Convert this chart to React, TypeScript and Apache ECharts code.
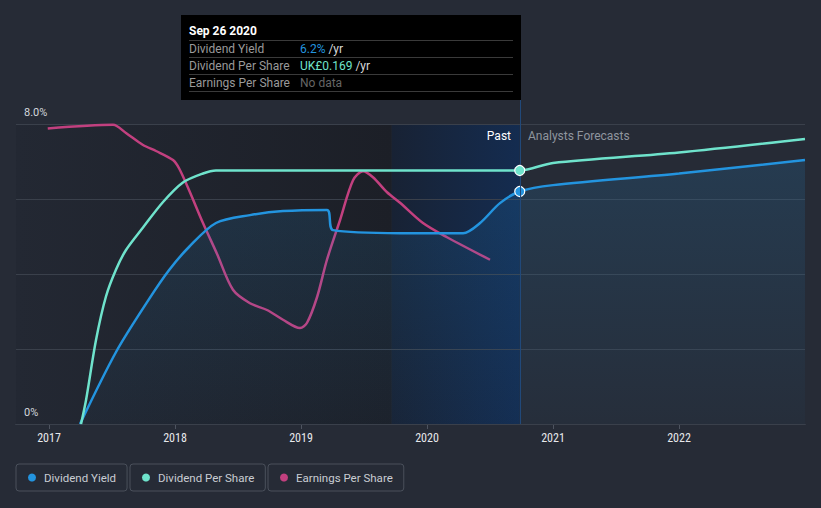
import React, { useEffect, useRef } from "react";
import * as echarts from "echarts";

// decimal years
const yieldX = [2017.246, 2017.532, 2017.79, 2017.952, 2018.111, 2018.325, 2018.595, 2018.857, 2019.206, 2019.254, 2019.786, 2020.286, 2020.421, 2020.579, 2020.736, 2021.0, 2022.0, 2023.0];
const yieldY = [0, 1.92, 3.31, 4.1, 4.72, 5.36, 5.57, 5.68, 5.71, 5.17, 5.09, 5.09, 5.36, 5.89, 6.2, 6.37, 6.68, 7.04];

const dpsX = [2017.254, 2017.294, 2017.373, 2017.452, 2017.532, 2017.611, 2017.746, 2017.905, 2018.063, 2018.222, 2018.325, 2019.0, 2020.0, 2020.736, 2021.0, 2022.0, 2023.0];
const dpsY = [0, 0.016, 0.056, 0.085, 0.103, 0.116, 0.131, 0.148, 0.161, 0.167, 0.169, 0.169, 0.169, 0.169, 0.174, 0.181, 0.19];

const epsX = [2016.99, 2017.508, 2017.611, 2017.746, 2017.849, 2017.984, 2018.032, 2018.111, 2018.222, 2018.333, 2018.46, 2018.595, 2018.73, 2018.857, 2018.992, 2019.048, 2019.127, 2019.206, 2019.31, 2019.413, 2019.492, 2019.571, 2019.683, 2019.786, 2019.968, 2020.159, 2020.5];
const epsY = [0.394, 0.399, 0.388, 0.372, 0.364, 0.352, 0.341, 0.312, 0.268, 0.227, 0.179, 0.161, 0.152, 0.139, 0.128, 0.135, 0.169, 0.219, 0.272, 0.325, 0.337, 0.329, 0.309, 0.295, 0.268, 0.249, 0.219];

const yearTicks = [2017, 2018, 2019, 2020, 2021, 2022];
const xMin = 2016.738;
const xMax = 2023.0;
const pastEnd = 2020.736;
const highlightStart = 2019.72;

const COLORS = { yield: "#2394df", dps: "#6fe3cc", eps: "#c2407f" };
const FONT = "Roboto, 'Noto Sans', sans-serif";

function pairs(xs: number[], ys: number[], markAt?: number, color?: string) {
  return xs.map((x, i) => {
    if (markAt !== undefined && x === markAt) {
      return {
        value: [x, ys[i]],
        symbol: "circle",
        symbolSize: 10,
        itemStyle: { color, borderColor: "#ffffff", borderWidth: 1.2 },
      };
    }
    return { value: [x, ys[i]], symbol: "none" };
  });
}

export default function App() {
  const ref = useRef<HTMLDivElement>(null);
  useEffect(() => {
    if (!ref.current) return;
    const chart = echarts.init(ref.current, null, { renderer: "svg" });
    const legendBase = {
      top: 464,
      orient: "horizontal",
      icon: "circle",
      itemWidth: 8,
      itemHeight: 8,
      padding: [6, 11, 6, 12],
      borderColor: "#4a505b",
      borderWidth: 1,
      borderRadius: 3,
      textStyle: { color: "#c9cdd3", fontSize: 11.5, fontFamily: FONT, padding: [0, 0, 0, 3], lineHeight: 15 },
      selectedMode: false,
    };
    chart.setOption({
      animation: false,
      backgroundColor: "#262b36",
      textStyle: { fontFamily: FONT },
      grid: { left: 16, right: 16, top: 124, bottom: 84, containLabel: false },
      legend: [
        { ...legendBase, left: 16, data: ["Dividend Yield"] },
        { ...legendBase, left: 130, data: ["Dividend Per Share"] },
        { ...legendBase, left: 268, data: ["Earnings Per Share"] },
      ],
      xAxis: {
        type: "value",
        min: xMin,
        max: xMax,
        splitLine: { show: false },
        axisLine: { lineStyle: { color: "#4e5460", width: 1 } },
        axisTick: { show: true, customValues: yearTicks, length: 5, lineStyle: { color: "#4e5460" } },
        axisLabel: {
          customValues: yearTicks,
          color: "#e6e8eb",
          fontSize: 12,
          margin: 8,
          fontFamily: "'Roboto Condensed', 'Liberation Sans Narrow', 'DejaVu Sans Condensed', sans-serif",
          formatter: (v: number) => String(Math.round(v)),
        },
      },
      yAxis: [
        {
          type: "value",
          min: 0,
          max: 8,
          interval: 2,
          axisLine: { show: false },
          axisTick: { show: false },
          splitLine: { lineStyle: { color: "#3a404b", width: 1 } },
          axisLabel: {
            inside: true,
            margin: 8,
            verticalAlign: "bottom",
            padding: [0, 0, 6, 0],
            color: "#d4d7dc",
            fontSize: 11,
            formatter: (v: number) => (v === 8 ? "8.0%" : v === 0 ? "0%" : ""),
          },
          z: 3,
        },
        { type: "value", min: 0, max: 0.2, show: false },
        { type: "value", min: 0, max: 0.4, show: false },
      ],
      series: [
        {
          name: "Dividend Yield",
          type: "line",
          yAxisIndex: 0,
          data: pairs(yieldX, yieldY, pastEnd, COLORS.yield),
          smooth: 0.3,
          showSymbol: true,
          symbol: "none",
          lineStyle: { color: COLORS.yield, width: 2.5 },
          itemStyle: { color: COLORS.yield },
          areaStyle: {
            color: new echarts.graphic.LinearGradient(0, 0, 0, 1, [
              { offset: 0, color: "rgba(35,148,223,0.22)" },
              { offset: 1, color: "rgba(35,148,223,0.04)" },
            ]),
          },
          z: 4,
          markArea: {
            silent: true,
            data: [
              [
                {
                  xAxis: xMin,
                  yAxis: 8,
                  itemStyle: {
                    color: new echarts.graphic.LinearGradient(0, 0, 1, 0, [
                      { offset: 0, color: "#232833" },
                      { offset: 1, color: "#1c1f27" },
                    ]),
                  },
                },
                { xAxis: highlightStart, yAxis: 0 },
              ],
              [
                {
                  xAxis: highlightStart,
                  yAxis: 8,
                  itemStyle: {
                    color: new echarts.graphic.LinearGradient(0, 0, 1, 0, [
                      { offset: 0, color: "#182234" },
                      { offset: 1, color: "#142c50" },
                    ]),
                  },
                },
                { xAxis: pastEnd, yAxis: 0 },
              ],
            ],
          },
          markLine: {
            silent: true,
            symbol: "none",
            label: { show: false },
            lineStyle: { color: "#21497a", type: "solid", width: 1 },
            data: [{ xAxis: pastEnd }],
          },
        },
        {
          name: "Dividend Per Share",
          type: "line",
          yAxisIndex: 1,
          data: pairs(dpsX, dpsY, pastEnd, COLORS.dps),
          smooth: 0.3,
          showSymbol: true,
          symbol: "none",
          lineStyle: { color: COLORS.dps, width: 2.5 },
          itemStyle: { color: COLORS.dps },
          z: 5,
        },
        {
          name: "Earnings Per Share",
          type: "line",
          yAxisIndex: 2,
          data: pairs(epsX, epsY),
          smooth: 0.3,
          showSymbol: false,
          symbol: "none",
          lineStyle: { color: COLORS.eps, width: 2.5 },
          itemStyle: { color: COLORS.eps },
          z: 3,
        },
      ],
      graphic: [
        { type: "line", z: 10, shape: { x1: 520.5, y1: 100, x2: 520.5, y2: 124 }, style: { stroke: "#21497a", lineWidth: 1 }, silent: true },
        { type: "text", z: 10, x: 511, y: 136, style: { text: "Past", fill: "#ffffff", fontSize: 12, fontFamily: FONT, align: "right", verticalAlign: "middle" } },
        { type: "text", z: 10, x: 528, y: 136, style: { text: "Analysts Forecasts", fill: "#8f959e", fontSize: 12, fontFamily: FONT, align: "left", verticalAlign: "middle" } },
        {
          type: "group",
          z: 10,
          children: [
            { type: "rect", shape: { x: 181, y: 15, width: 340, height: 85 }, style: { fill: "#000000" } },
            { type: "text", x: 189, y: 31, style: { text: "Sep 26 2020", fill: "#ffffff", fontSize: 12, fontWeight: "bold", fontFamily: FONT, verticalAlign: "middle" } },
            { type: "line", shape: { x1: 189, y1: 40.5, x2: 513, y2: 40.5 }, style: { stroke: "#3a3a3a", lineWidth: 1 } },
            { type: "text", x: 189, y: 48.5, style: { text: "Dividend Yield", fill: "#9a9a9a", fontSize: 12, fontFamily: FONT, verticalAlign: "middle" } },
            { type: "text", x: 300, y: 48.5, style: { rich: { v: { fill: COLORS.yield, fontSize: 12, fontFamily: FONT }, u: { fill: "#d8d8d8", fontSize: 12, fontFamily: FONT } }, text: "{v|6.2%}{u| /yr}", verticalAlign: "middle" } },
            { type: "line", shape: { x1: 189, y1: 57.5, x2: 513, y2: 57.5 }, style: { stroke: "#3a3a3a", lineWidth: 1 } },
            { type: "text", x: 189, y: 65.5, style: { text: "Dividend Per Share", fill: "#9a9a9a", fontSize: 12, fontFamily: FONT, verticalAlign: "middle" } },
            { type: "text", x: 300, y: 65.5, style: { rich: { v: { fill: COLORS.dps, fontSize: 12, fontFamily: FONT }, u: { fill: "#d8d8d8", fontSize: 12, fontFamily: FONT } }, text: "{v|UK£0.169}{u| /yr}", verticalAlign: "middle" } },
            { type: "line", shape: { x1: 189, y1: 74.5, x2: 513, y2: 74.5 }, style: { stroke: "#3a3a3a", lineWidth: 1 } },
            { type: "text", x: 189, y: 82.5, style: { text: "Earnings Per Share", fill: "#9a9a9a", fontSize: 12, fontFamily: FONT, verticalAlign: "middle" } },
            { type: "text", x: 300, y: 82.5, style: { text: "No data", fill: "#666666", fontSize: 12, fontFamily: FONT, verticalAlign: "middle" } },
            { type: "line", shape: { x1: 189, y1: 91.5, x2: 513, y2: 91.5 }, style: { stroke: "#3a3a3a", lineWidth: 1 } },
          ],
        },
      ],
    });
    return () => chart.dispose();
  }, []);
  return <div ref={ref} style={{ width: 821, height: 508, position: "fixed", left: 0, top: 0 }} />;
}
